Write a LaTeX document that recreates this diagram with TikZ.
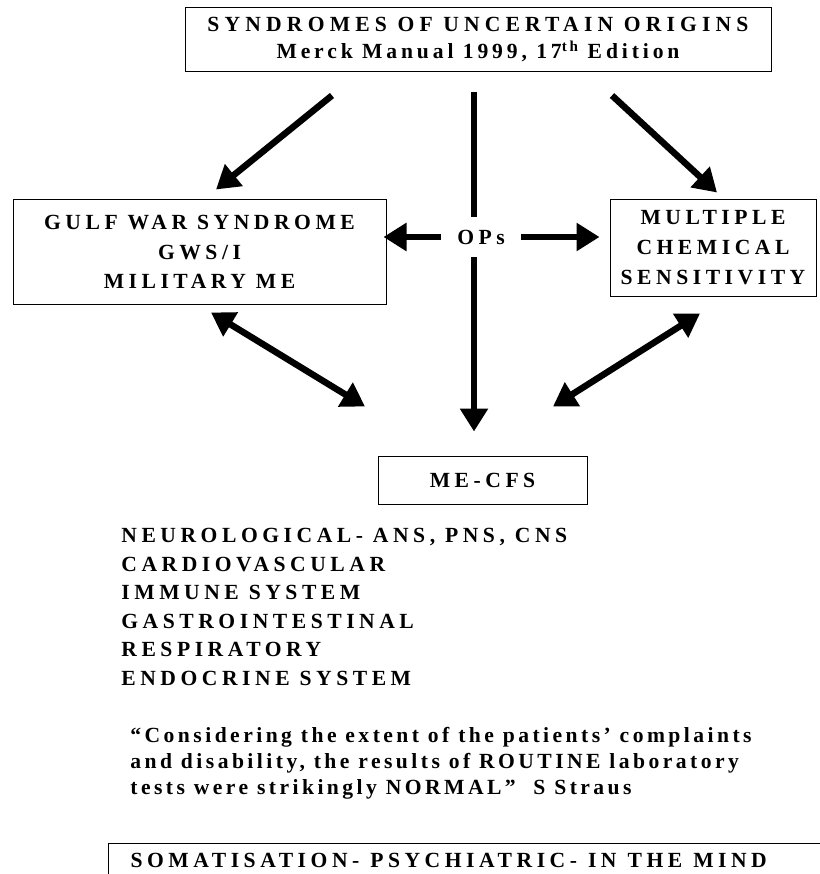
\documentclass[tikz,border=0pt]{standalone}
\usepackage{fontspec}
\setmainfont{Liberation Serif}[LetterSpace=21]
\usetikzlibrary{arrows.meta,positioning,calc}

\begin{document}
\begin{tikzpicture}[x=1pt, y=-1pt, thick, font=\bfseries\fontsize{21.6}{28.5}\selectfont]
    \tikzstyle{block} = [rectangle, draw, line width=1pt, align=center, inner sep=0pt]
    \tikzstyle{shaft} = [draw, line width=6.5pt]
    \tikzstyle{line} = [shaft, -{Triangle[length=23pt,width=27pt]}]
    \tikzstyle{both} = [shaft, {Triangle[length=23pt,width=27pt]}-{Triangle[length=23pt,width=27pt]}]
    \tikzstyle{list} = [align=left, anchor=north west, inner sep=0pt]

    \useasboundingbox (0,0) rectangle (819,874);

    \node [block, minimum width=586pt, minimum height=64pt, font=\bfseries\fontsize{21.6}{27}\selectfont] (uncertain) at (478,40) {{\addfontfeature{LetterSpace=24}SYNDROMES OF UNCERTAIN ORIGINS}\\{\addfontfeature{LetterSpace=18}Merck Manual 1999, 17\textsuperscript{th} Edition}};
    \node [block, minimum width=373pt, minimum height=104pt, font=\bfseries\fontsize{21.6}{29.5}\selectfont] (gulfwar) at (199.5,252) {GULF WAR SYNDROME\\GWS/I\\MILITARY ME};
    \node [block, minimum width=206pt, minimum height=96pt, font=\bfseries\fontsize{21.6}{30}\selectfont] (mcs) at (713,248) {MULTIPLE\\CHEMICAL\\SENSITIVITY};
    \node [minimum width=80pt, minimum height=40pt, inner sep=0pt] (ops) at (481,237) {OPs};
    \node [block, minimum width=209pt, minimum height=48pt] (mecfs) at (482.5,480) {ME-CFS};
    \coordinate (spine) at (474,92);

    % arrows out of the top box
    \path [line] ($(uncertain.south)+(-146,23)$) -- ($(gulfwar.north)+(16.5,-10)$);
    \path [line] ($(uncertain.south)+(134,23)$) -- ($(mcs.north)+(4,-7)$);
    \path [shaft] (spine) -- (spine |- ops.north);
    \path [line, shorten >=24pt] (spine |- ops.south) -- (spine |- mecfs.north);
    \path [line, shorten >=-3pt] (ops.west) -- (ops.west -| gulfwar.east);
    \path [line, shorten >=10pt] (ops.east) -- (ops.east -| mcs.west);

    % both ways to ME-CFS
    \path [both] ($(gulfwar.south)+(11.5,8)$) -- ($(mecfs.north)+(-117.5,-49)$);
    \path [both] ($(mcs.south)+(-13,17)$) -- ($(mecfs.north)+(70.5,-49)$);

    \node [list] (systems) at (121,528) {NEUROLOGICAL- ANS, PNS, CNS\\CARDIOVASCULAR\\IMMUNE SYSTEM\\GASTROINTESTINAL\\RESPIRATORY\\ENDOCRINE SYSTEM};
    \node [list, font=\bfseries\fontsize{21.6}{26}\selectfont\addfontfeature{LetterSpace=16}] (straus) at (130,727) {“Considering the extent of the patients’ complaints\\and disability, the results of ROUTINE laboratory\\tests were strikingly NORMAL”\ \ S Straus};
    \node [block, anchor=north west, align=left, text width=700pt, inner xsep=22pt, inner ysep=10pt] (somatisation) at (108,843) {\spaceskip=11pt SOMATISATION- PSYCHIATRIC- IN THE MIND};
\end{tikzpicture}
\end{document}
